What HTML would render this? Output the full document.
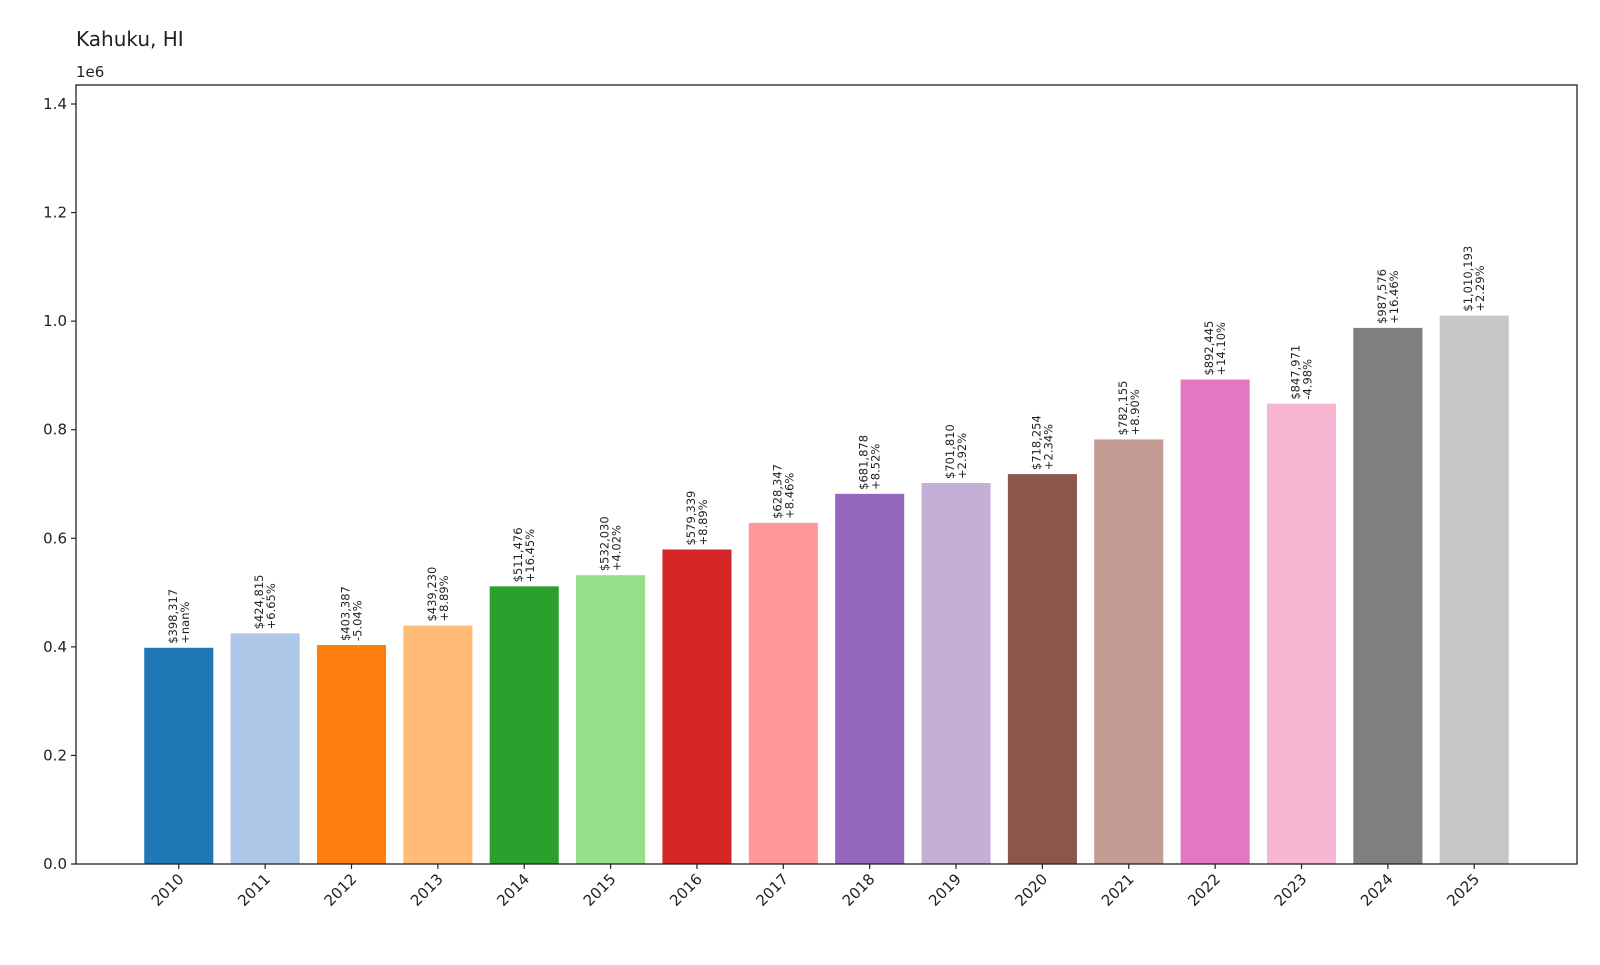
<!DOCTYPE html>
<html><head><meta charset="utf-8"><style>
body{margin:0;background:#fff;font-family:"Liberation Sans","DejaVu Sans",sans-serif}
</style></head><body>
<svg id="chart" width="1600" height="960" xmlns="http://www.w3.org/2000/svg" font-family="DejaVu Sans, Liberation Sans, sans-serif">
<text x="76" y="46" font-size="20" fill="#222">Kahuku, HI</text>
<text x="76" y="77" font-size="15" fill="#222">1e6</text>
<g id="plot"></g>
<rect x="76" y="85" width="1501" height="779" fill="none" stroke="#222" stroke-width="1.3"/>
</svg>
<script>
const years=["2010","2011","2012","2013","2014","2015","2016","2017","2018","2019","2020","2021","2022","2023","2024","2025"];
const values=[398317,424815,403387,439230,511476,532030,579339,628347,681878,701810,718254,782155,892445,847971,987576,1010193];
const pctLabels=["+nan%","+6.65%","-5.04%","+8.89%","+16.45%","+4.02%","+8.89%","+8.46%","+8.52%","+2.92%","+2.34%","+8.90%","+14.10%","-4.98%","+16.46%","+2.29%"];
const yTicks=[0,0.2,0.4,0.6,0.8,1.0,1.2,1.4];
const colors=["#1f77b4","#aec7e8","#ff7f0e","#ffbb78","#2ca02c","#98df8a","#d62728","#ff9896","#9467bd","#c5b0d5","#8c564b","#c49c94","#e377c2","#f7b6d2","#7f7f7f","#c7c7c7"];
const L=76,R=1577,T=85,B=864,yMax=1.435e6,xMin=-1.19,xMax=16.19;
const xs=i=>L+(i-xMin)/(xMax-xMin)*(R-L);
const ys=v=>B-v/yMax*(B-T);
const bw=0.8*(R-L)/(xMax-xMin);
const g=document.getElementById('plot');
const NS="http://www.w3.org/2000/svg";
function mk(t,a){const e=document.createElementNS(NS,t);for(const k in a)e.setAttribute(k,a[k]);g.appendChild(e);return e;}
yTicks.forEach(t=>{
  const y=ys(t*1e6);
  const tk=mk('line',{x1:L-5,x2:L,y1:y,y2:y,stroke:'#222','stroke-width':1.2});
  
  
  const tx=mk('text',{x:L-9,y:y+5,'font-size':15,'text-anchor':'end',fill:'#222'});
  tx.textContent=t.toFixed(1);
  
  
});
values.forEach((v,i)=>{
  const cx=xs(i),y=ys(v);
  const r=mk('rect',{x:cx-bw/2,y:y,width:bw,height:B-y,fill:colors[i]});
  
  
  const tk=mk('line',{x1:cx,x2:cx,y1:B,y2:B+5,stroke:'#222','stroke-width':1.2});
  
  
  const tl=mk('text',{x:0,y:0,'font-size':15,'text-anchor':'end',fill:'#222',transform:`translate(${cx+6},${B+16}) rotate(-45)`});
  tl.textContent=years[i];
  
  
  const lb=mk('text',{x:0,y:0,'font-size':11.5,fill:'#222',transform:`translate(${cx},${y-4}) rotate(-90)`});
  
  
  const s1=document.createElementNS(NS,'tspan');s1.setAttribute('x',0);s1.setAttribute('dy',-2);
  s1.textContent='$'+v.toLocaleString('en-US');lb.appendChild(s1);
  const s2=document.createElementNS(NS,'tspan');s2.setAttribute('x',0);s2.setAttribute('dy',12);
  s2.textContent=pctLabels[i];lb.appendChild(s2);
});
</script>
</body></html>
